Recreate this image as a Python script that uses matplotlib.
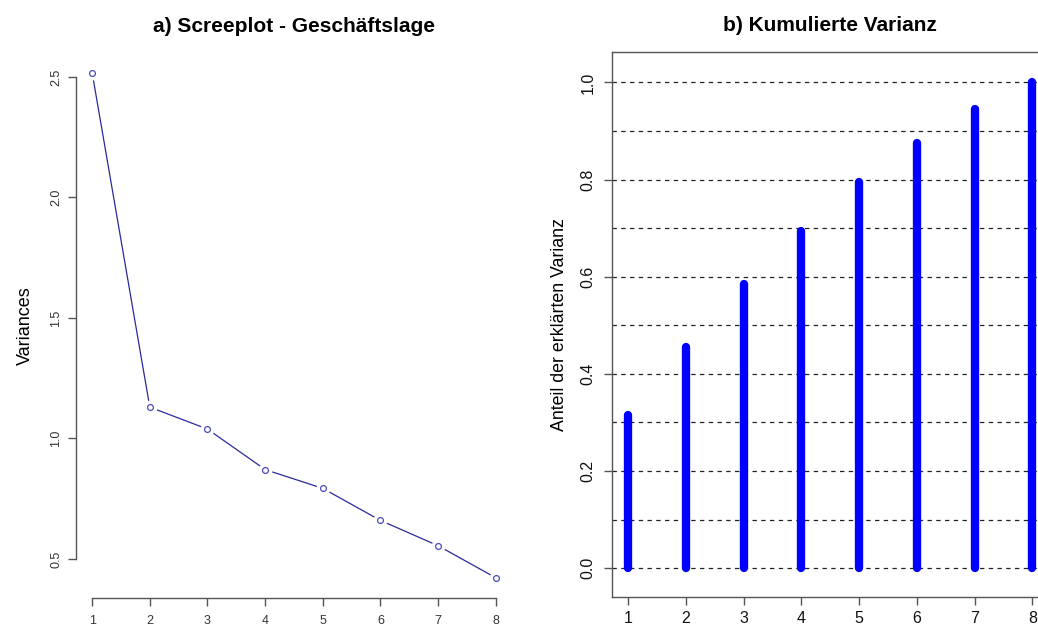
import numpy as np
import matplotlib
matplotlib.use('Agg')
import matplotlib.pyplot as plt

plt.rcParams['font.family'] = ['Liberation Sans', 'DejaVu Sans']

# eigenvalues
komponenten = [1, 2, 3, 4, 5, 6, 7, 8]
varianzen   = [2.518, 1.130, 1.039, 0.871, 0.793, 0.660, 0.555, 0.422]
kumuliert   = [0.315, 0.456, 0.586, 0.695, 0.794, 0.876, 0.946, 1.000]

scree_yticks = [0.5, 1.0, 1.5, 2.0, 2.5]
kum_yticks   = [0.0, 0.2, 0.4, 0.6, 0.8, 1.0]
kum_grid     = [0.0, 0.1, 0.2, 0.3, 0.4, 0.5, 0.6, 0.7, 0.8, 0.9, 1.0]

AX_COL = '#555555'
#-------------------------------------
def _r_lim(vals):
    lo, hi = min(vals), max(vals)
    pad = 0.04 * (hi - lo)
    return lo - pad, hi + pad
#-------------------------------------
def _screeplot(ax):
    ax.plot(komponenten, varianzen, color='#2a2a9c', lw=0.9, zorder=1)
    # white halo so the line stops short of the points, like R type='b'
    ax.plot(komponenten, varianzen, ls='none', marker='o', ms=9,
            mfc='white', mec='white', zorder=2)
    ax.plot(komponenten, varianzen, ls='none', marker='o', ms=4.2,
            mfc='white', mec='#4a4ab8', mew=0.9, zorder=3)

    ax.set_xlim(*_r_lim(komponenten))
    ax.set_ylim(*_r_lim(varianzen))

    for side in ['top', 'right']:
        ax.spines[side].set_visible(False)
    for side in ['left', 'bottom']:
        ax.spines[side].set_color(AX_COL)
        ax.spines[side].set_linewidth(1.0)
    ax.spines['left'].set_bounds(scree_yticks[0], scree_yticks[-1])
    ax.spines['bottom'].set_bounds(komponenten[0], komponenten[-1])

    ax.set_xticks(komponenten)
    ax.set_yticks(scree_yticks)
    ax.set_yticklabels([f'{v:.1f}' for v in scree_yticks], rotation=90, va='center')
    ax.tick_params(axis='both', length=6, width=1.0, color=AX_COL,
                   labelsize=9, labelcolor='#333333')
    ax.tick_params(axis='y', pad=4)
    ax.tick_params(axis='x', pad=6)

    ax.set_ylabel('Variances', fontsize=13, labelpad=12)
    ax.set_title('a) Screeplot - Geschäftslage', fontsize=15,
                 fontweight='bold', pad=15)
#-------------------------------------
def _kumuliert(ax):
    for yv in kum_grid:
        ax.axhline(yv, color='#222222', lw=0.9, ls=(0, (3.5, 3.5)), zorder=1)

    lc = ax.vlines(komponenten, 0, kumuliert, color='#0000ff', lw=6.0, zorder=2)
    lc.set_capstyle('round')

    ax.set_xlim(*_r_lim(komponenten))
    ax.set_ylim(-0.06, 1.062)

    for side in ax.spines:
        ax.spines[side].set_color(AX_COL)
        ax.spines[side].set_linewidth(1.0)

    ax.set_xticks(komponenten)
    ax.set_yticks(kum_yticks)
    ax.set_yticklabels([f'{v:.1f}' for v in kum_yticks], rotation=90, va='center')
    ax.tick_params(axis='both', length=6, width=1.0, color=AX_COL,
                   labelsize=11.5, labelcolor='#111111')
    ax.tick_params(axis='y', pad=6)
    ax.tick_params(axis='x', pad=4)

    ax.set_ylabel('Anteil der erklärten Varianz', fontsize=12.8, labelpad=9)
    ax.set_title('b) Kumulierte Varianz', fontsize=15, fontweight='bold', pad=15)
#-------------------------------------
def main():
    fig = plt.figure(figsize=(10.38, 6.25), dpi=100)

    ax_a = fig.add_axes([0.0732, 0.0432, 0.4200, 0.8730])
    ax_b = fig.add_axes([0.5896, 0.0443, 0.4205, 0.8720])

    _screeplot(ax_a)
    _kumuliert(ax_b)

    fig.savefig('out.png', dpi=100)
    plt.close(fig)
#-------------------------------------
if __name__ == '__main__':
    main()
